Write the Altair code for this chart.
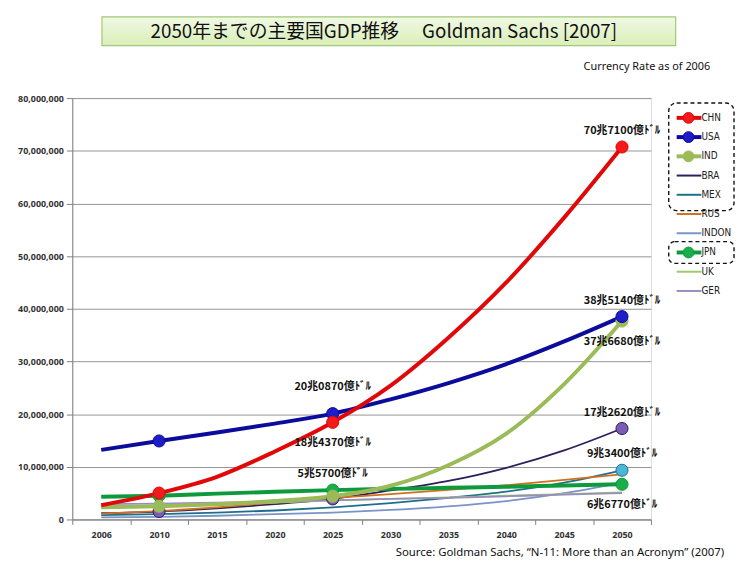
import altair as alt
import pandas as pd

# ---------------- data (GDP, trillion US$; axis unit = million US$) ----------------
years = ["2006", "2010", "2015", "2020", "2025", "2030", "2035", "2040", "2045", "2050"]
series = ["CHN", "USA", "IND", "BRA", "MEX", "RUS", "INDON", "JPN", "UK", "GER"]

chn = [2.7, 5.0, 8.1, 12.9, 18.437, 25.4, 34.5, 45.0, 57.3, 70.71]
usa = [13.2, 14.9, 16.5, 18.2, 20.087, 22.8, 25.9, 29.5, 33.8, 38.514]
ind = [2.3, 2.5, 2.9, 3.5, 4.4, 6.4, 10.3, 16.3, 25.7, 37.668]
bra = [1.2, 1.5, 2.1, 2.9, 3.9, 5.5, 7.3, 9.8, 13.1, 17.262]
mex = [0.8, 1.0, 1.3, 1.7, 2.3, 3.1, 4.1, 5.3, 7.0, 9.34]
rus = [1.1, 1.6, 2.3, 3.2, 4.1, 4.8, 5.6, 6.5, 7.5, 8.58]
indon = [0.4, 0.5, 0.7, 1.0, 1.3, 1.8, 2.5, 3.5, 5.0, 7.01]
jpn = [4.3, 4.5, 4.9, 5.25, 5.57, 5.8, 6.0, 6.2, 6.45, 6.677]
uk = [2.4, 2.6, 2.9, 3.2, 3.6, 3.9, 4.2, 4.5, 4.8, 5.13]
ger = [2.9, 3.0, 3.2, 3.4, 3.6, 3.9, 4.1, 4.4, 4.7, 5.02]

series_values = {"CHN": chn, "USA": usa, "IND": ind, "BRA": bra, "MEX": mex,
                 "RUS": rus, "INDON": indon, "JPN": jpn, "UK": uk, "GER": ger}

line_colors = ["#E00808", "#0C0C9C", "#9BBB59", "#2E1E5C", "#1F6F8B",
               "#D0701E", "#7A93C8", "#0E9A3C", "#9BCB6B", "#9A8CBF"]
marker_colors = ["#F21A1A", "#1C1CC8", "#9BBB59", "#7B5BB3", "#4DB6D6",
                 "#E08A3A", "#8FA6D6", "#1AAE4A", "#A8D47C", "#A89CCB"]

thin_series = ["BRA", "MEX", "RUS", "INDON", "UK", "GER"]
thick_series = ["JPN", "IND", "USA", "CHN"]
legend_marker_series = ["CHN", "USA", "IND", "JPN"]

marker_series = ["BRA", "BRA", "BRA", "MEX", "JPN", "JPN", "JPN", "IND", "IND", "IND",
                 "USA", "USA", "USA", "CHN", "CHN", "CHN"]
marker_years = ["2010", "2025", "2050", "2050", "2010", "2025", "2050", "2010", "2025", "2050",
                "2010", "2025", "2050", "2010", "2025", "2050"]

label_series = ["CHN", "USA", "IND", "BRA", "MEX", "JPN", "USA", "CHN", "JPN"]
label_years = ["2050", "2050", "2050", "2050", "2050", "2050", "2025", "2025", "2025"]
label_texts = ["70兆7100億ﾄﾞﾙ", "38兆5140億ﾄﾞﾙ", "37兆6680億ﾄﾞﾙ", "17兆2620億ﾄﾞﾙ",
               "9兆3400億ﾄﾞﾙ", "6兆6770億ﾄﾞﾙ", "20兆0870億ﾄﾞﾙ", "18兆4370億ﾄﾞﾙ",
               "5兆5700億ﾄﾞﾙ"]
label_side = ["above", "above", "below", "above", "above", "below", "high", "below", "above"]

title_text = "2050年までの主要国GDP推移\u3000 Goldman Sachs [2007]"
note_text = "Currency Rate as of 2006"
source_text = "Source: Goldman Sachs, \u201cN-11: More than an Acronym\u201d (2007)"

# ---------------- tables ----------------
rows = []
for s in series:
    for yr, v in zip(years, series_values[s]):
        rows.append({"series": s, "year": yr, "value": v * 1e6})
df = pd.DataFrame(rows)

mk = pd.DataFrame({"series": marker_series, "year": marker_years}).merge(df, on=["series", "year"], how="left")
lb = pd.DataFrame({"series": label_series, "year": label_years, "text": label_texts,
                   "side": label_side}).merge(df, on=["series", "year"], how="left")
leg = pd.DataFrame({"series": series})

# ---------------- scales / encodings ----------------
FONT = "Noto Sans"
NARROW = "DejaVu Sans Condensed, Roboto"
JFONT = "Noto Sans CJK JP"
stroke_scale = alt.Scale(domain=series, range=line_colors)
fill_scale = alt.Scale(domain=series, range=marker_colors)
x_scale = alt.Scale(type="band", domain=years, paddingInner=0, paddingOuter=0)
y_scale = alt.Scale(domain=[0, 80e6])

x_plain = alt.X("year:O", scale=x_scale, bandPosition=0.5, title=None)
y_plain = alt.Y("value:Q", scale=y_scale, title=None)
x_axis = alt.X("year:O", scale=x_scale, bandPosition=0.5, title=None,
               axis=alt.Axis(labelAngle=0, tickBand="extent", tickSize=5,
                             labelFontSize=9, labelFontWeight="bold", labelColor="#333",
                             labelFont=FONT, domainColor="#808080", tickColor="#808080",
                             labelPadding=6, grid=False))
y_axis = alt.Y("value:Q", scale=y_scale, title=None,
               axis=alt.Axis(values=[i * 10000000 for i in range(9)], format=",.0f",
                             labelFontSize=9, labelFontWeight="bold", labelColor="#333",
                             labelFont=FONT, tickSize=6, domainColor="#808080",
                             tickColor="#808080", grid=True, gridColor="#959595",
                             labelPadding=3))
stroke_enc = alt.Stroke("series:N", scale=stroke_scale, legend=None)
fill_enc = alt.Fill("series:N", scale=fill_scale, legend=None)

base = alt.Chart(df)

thin_lines = base.transform_filter(
    alt.FieldOneOfPredicate(field="series", oneOf=thin_series)
).mark_line(interpolate="monotone", strokeWidth=1.8).encode(x=x_axis, y=y_axis, stroke=stroke_enc)

thick_layers = [
    base.transform_filter(alt.datum.series == s)
    .mark_line(interpolate="monotone", strokeWidth=4)
    .encode(x=x_plain, y=y_plain, stroke=stroke_enc)
    for s in thick_series
]

markers = alt.Chart(mk).mark_circle(size=150, opacity=1, strokeWidth=1).encode(
    x=x_plain, y=y_plain, fill=fill_enc, stroke=stroke_enc)

side_offset = {"above": -16, "high": -27, "below": 21}
label_layers = [
    alt.Chart(lb).transform_filter(alt.datum.side == side)
    .mark_text(font=JFONT, fontSize=11, fontWeight="bold", color="#111", dy=off)
    .encode(x=x_plain, y=y_plain, text="text:N")
    for side, off in side_offset.items()
]

# decorations (outside the plot area)
title_box = alt.Chart(pd.DataFrame({"t": [title_text]})).mark_rect(
    fill=alt.Gradient(gradient="linear", x1=0, x2=0, y1=0, y2=1,
                      stops=[alt.GradientStop(color="#F1F9E4", offset=0),
                             alt.GradientStop(color="#D9EEB9", offset=1)]),
    stroke="#A3C777", strokeWidth=1.2
).encode(x=alt.value(30), x2=alt.value(610), y=alt.value(-82), y2=alt.value(-53))
title_mark = alt.Chart(pd.DataFrame({"t": [title_text]})).mark_text(
    font=JFONT, fontSize=19, color="#111", baseline="middle", align="center"
).encode(x=alt.value(315), y=alt.value(-67), text="t:N")
note_mark = alt.Chart(pd.DataFrame({"t": [note_text]})).mark_text(
    font=FONT, fontSize=11, color="#111", baseline="middle", align="right"
).encode(x=alt.value(645), y=alt.value(-31), text="t:N")
source_mark = alt.Chart(pd.DataFrame({"t": [source_text]})).mark_text(
    font=FONT, fontSize=11.5, color="#111", baseline="middle", align="right"
).encode(x=alt.value(659), y=alt.value(460), text="t:N")

main = alt.layer(thin_lines, *thick_layers, markers, *label_layers,
                 title_box, title_mark, note_mark, source_mark)

# ---------------- custom legend ----------------
ly_scale = alt.Scale(type="point", domain=series, range=[20, 195], padding=0)
ly = alt.Y("series:N", scale=ly_scale, axis=None)
lbase = alt.Chart(leg)
leg_thin = lbase.transform_filter(
    alt.FieldOneOfPredicate(field="series", oneOf=thin_series)
).mark_rule(strokeWidth=2).encode(x=alt.value(611), x2=alt.value(636), y=ly, stroke=stroke_enc)
leg_thick = lbase.transform_filter(
    alt.FieldOneOfPredicate(field="series", oneOf=legend_marker_series)
).mark_rule(strokeWidth=4).encode(x=alt.value(611), x2=alt.value(636), y=ly, stroke=stroke_enc)
leg_dots = lbase.transform_filter(
    alt.FieldOneOfPredicate(field="series", oneOf=legend_marker_series)
).mark_circle(size=120, opacity=1, strokeWidth=1).encode(
    x=alt.value(623), y=ly, fill=fill_enc, stroke=stroke_enc)
leg_text = lbase.mark_text(font=NARROW, fontSize=10, color="#222", align="left",
                           baseline="middle").encode(x=alt.value(636), y=ly, text="series:N")
box1 = alt.Chart(pd.DataFrame({"first": ["CHN"], "last": ["MEX"]})).mark_rect(
    fillOpacity=0, stroke="#111", strokeWidth=1.4, strokeDash=[4, 3], cornerRadius=8,
    yOffset=-15, y2Offset=16
).encode(x=alt.value(603), x2=alt.value(669),
         y=alt.Y("first:N", scale=ly_scale, axis=None), y2="last:N")
box2 = alt.Chart(pd.DataFrame({"first": ["JPN"], "last": ["JPN"]})).mark_rect(
    fillOpacity=0, stroke="#111", strokeWidth=1.4, strokeDash=[4, 3], cornerRadius=6,
    yOffset=-11, y2Offset=11
).encode(x=alt.value(603), x2=alt.value(669),
         y=alt.Y("first:N", scale=ly_scale, axis=None), y2="last:N")

legend = alt.layer(leg_thin, leg_thick, leg_dots, leg_text, box1, box2)

chart = alt.layer(main, legend).resolve_scale(y="independent").properties(
    width=585, height=426,
    autosize=alt.AutoSizeParams(type="none"),
    padding={"left": 65, "top": 88, "right": 86, "bottom": 44},
).configure_view(stroke="transparent", strokeWidth=0).configure(background="white")

chart.save("out.html", embed_options={"renderer": "svg", "actions": False})
